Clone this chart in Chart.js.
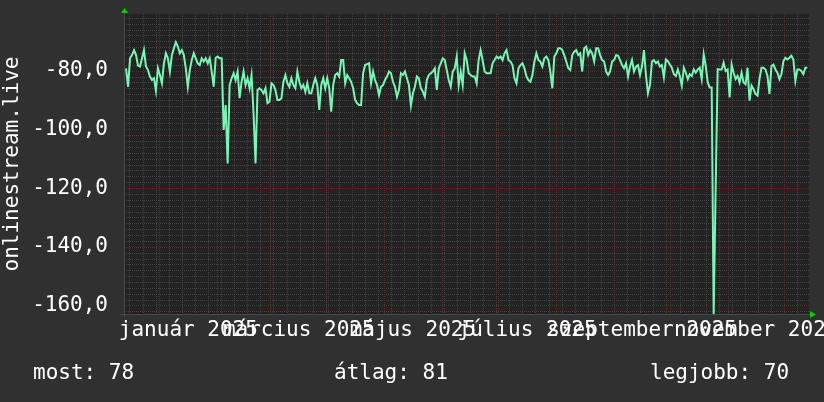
<!DOCTYPE html>
<html>
<head>
<meta charset="utf-8">
<script src="https://cdn.jsdelivr.net/npm/chart.js@4.4.0/dist/chart.umd.min.js"></script>
<style>
  html, body { margin: 0; padding: 0; background: #303030; }
  #wrap { width: 824px; height: 402px; }
</style>
</head>
<body>
<div id="wrap"><canvas id="chart" width="824" height="402"></canvas></div>
<script>
// values (one sample about every day)
const seg1 = [
  -79.2, -85.5, -75.8, -74.7, -73.0, -74.7, -78.3, -78.6, -75.8, -73.0,
  -78.6, -79.8, -82.0, -83.2, -82.6, -86.9, -79.2, -81.5, -84.3, -77.5,
  -74.1, -75.8, -80.3, -74.7, -72.4, -70.3, -71.8, -74.1, -73.0, -74.7,
  -79.2, -85.5, -79.8, -76.4, -74.1, -75.8, -77.5, -78.1, -75.8, -76.9,
  -75.8, -77.5, -75.8, -80.3, -85.5, -75.6, -75.2, -75.8, -75.8, -100.2,
  -91.7, -111.6, -84.9, -82.6, -80.9, -83.2, -80.3, -89.4, -83.8, -80.3,
  -84.9, -82.6, -86.0, -81.5, -94.5
];
const seg2 = [
  -111.6, -86.6, -86.0, -86.6, -87.7, -86.0, -91.1, -90.6, -84.3, -84.9,
  -86.6, -90.0, -90.0, -89.4, -83.8, -81.5, -84.3, -85.5, -82.6, -84.9,
  -86.0, -80.3, -83.8, -86.0, -84.9, -87.2, -84.3, -87.7, -87.7, -84.9,
  -82.6, -84.9, -93.4, -84.9, -82.6, -86.0, -82.6, -86.0, -94.0, -84.9,
  -81.5, -80.9, -82.0, -76.4, -76.4, -84.3, -81.5, -82.6, -83.8, -86.0,
  -90.0, -91.1, -91.7, -91.7, -80.9, -78.1, -77.8, -77.5, -84.3, -80.3,
  -83.2, -84.9, -88.3, -85.5, -84.9, -83.2, -82.0, -80.3
];
const seg3 = [
  -80.9, -83.8, -85.5, -88.9, -86.6, -80.9, -81.5, -80.3, -82.6, -84.9,
  -91.9, -87.7, -85.5, -82.0, -82.6, -86.0, -87.2, -88.9, -83.2, -81.5,
  -80.9, -80.3, -79.2, -86.6, -79.2, -77.5, -75.8, -76.4, -79.8, -83.2,
  -85.5, -80.3, -79.2, -75.2, -84.9, -80.3, -84.9, -74.1, -76.4, -80.9,
  -81.5, -82.0, -82.0, -84.3, -76.4, -73.0, -76.4, -80.3, -80.9, -80.9,
  -80.9, -77.5, -76.4, -75.2, -75.8, -75.2, -76.4, -74.1, -73.0, -76.4,
  -76.9, -78.1, -82.6, -84.3, -79.2, -78.1, -77.5
];
const seg4 = [
  -79.2, -82.0, -83.2, -83.8, -81.5, -76.9, -74.1, -76.4, -76.9, -78.6,
  -75.8, -75.2, -76.4, -80.3, -86.0, -75.2, -74.1, -72.4, -72.4, -73.0,
  -74.7, -76.9, -79.2, -79.8, -74.7, -73.5, -73.0, -74.7, -74.1, -80.3,
  -72.4, -71.8, -74.7, -73.0, -74.1, -76.9, -72.4, -72.4, -74.7, -76.4,
  -76.9, -80.3, -81.5, -80.3, -76.9, -76.4, -74.7, -74.9, -76.4, -78.1,
  -79.2, -77.5, -82.0, -78.6, -76.4, -80.3, -78.6, -78.1, -81.5, -78.6,
  -73.0, -81.5, -87.7, -84.9, -76.9, -76.4, -77.5, -76.9, -78.6, -78.1
];
const seg5 = [
  -82.3, -76.2, -76.8, -77.9, -79.0, -81.2, -81.8, -79.6, -81.8, -85.1,
  -79.0, -80.7, -82.9, -81.2, -81.8, -79.6, -80.7, -79.6, -79.0, -82.9,
  -74.5, -78.4, -84.0, -85.7, -85.7, -163.0, -120.0, -79.5, -79.6, -79.6,
  -77.3, -80.1, -79.6, -89.1, -77.9, -80.7, -82.9, -81.8, -84.0, -80.7,
  -84.0, -84.6, -79.0, -90.2, -85.1, -86.3, -87.9, -88.5, -82.9, -79.0,
  -79.0, -79.6, -81.8, -87.9, -78.4, -77.9, -79.6, -80.7, -82.9, -81.2,
  -76.8, -75.6, -76.2, -75.6, -74.9, -76.2, -83.5, -79.6, -79.6, -80.1,
  -81.2, -79.0, -79.0
];
const values = [...seg1, ...seg2, ...seg3, ...seg4, ...seg5];

// time axis: days counted from 1 Jan 2025
const dataStartDay = -17.8;
const dataStepDays = 1.0646;
const axisStartDay = -18.9;
const axisEndDay = 347.2;

const monthNames = ['január', 'február', 'március', 'április', 'május', 'június',
  'július', 'augusztus', 'szeptember', 'október', 'november', 'december'];
const labelMonths = [0, 2, 4, 6, 8, 10];
const yTicks = [-80, -100, -120, -140, -160];
const yMin = -162.9;
const yMax = -60.7;
const yTitle = 'onlinestream.live';
const legendItems = ['most: 78', 'átlag: 81', 'legjobb: 70'];

const FONT = '21px "DejaVu Sans Mono", monospace';
const DAY = 86400000;
const dayOf = (y, m, d) => (Date.UTC(y, m, d) - Date.UTC(2025, 0, 1)) / DAY;

const points = values.map((v, i) => ({ x: dataStartDay + i * dataStepDays, y: v }));

// month starts, weekly (monday) minor lines
const monthStarts = [];
for (let m = 0; m < 13; m++) monthStarts.push(dayOf(2025, m, 1));
const mondays = [];
for (let d = dayOf(2024, 11, 16); d <= axisEndDay; d += 7) mondays.push(d);

const rrdBackground = {
  id: 'rrdBackground',
  beforeDatasetsDraw(chart) {
    const { ctx, chartArea: a, scales: { x, y } } = chart;
    ctx.save();
    ctx.fillStyle = '#222222';
    ctx.fillRect(a.left, a.top, a.right - a.left, a.bottom - a.top);
    ctx.lineWidth = 1;
    ctx.setLineDash([1, 1]);

    // minor grid
    ctx.strokeStyle = '#434343';
    mondays.forEach(d => {
      const px = Math.round(x.getPixelForValue(d)) + 0.5;
      if (px < a.left || px > a.right) return;
      ctx.beginPath(); ctx.moveTo(px, a.top); ctx.lineTo(px, a.bottom); ctx.stroke();
    });
    for (let v = -162; v <= yMax; v += 2) {
      const py = Math.round(y.getPixelForValue(v)) + 0.5;
      ctx.beginPath(); ctx.moveTo(a.left, py); ctx.lineTo(a.right, py); ctx.stroke();
    }

    // major grid
    ctx.strokeStyle = '#5a2c2c';
    monthStarts.forEach(d => {
      const px = Math.round(x.getPixelForValue(d)) + 0.5;
      if (px < a.left || px > a.right) return;
      ctx.beginPath(); ctx.moveTo(px, a.top); ctx.lineTo(px, a.bottom); ctx.stroke();
    });
    yTicks.forEach(v => {
      const py = Math.round(y.getPixelForValue(v)) + 0.5;
      ctx.beginPath(); ctx.moveTo(a.left, py); ctx.lineTo(a.right, py); ctx.stroke();
    });
    ctx.restore();
  },
  afterDraw(chart) {
    const { ctx, chartArea: a, scales: { x, y } } = chart;
    ctx.save();
    // axes
    ctx.strokeStyle = '#4a4a4a';
    ctx.lineWidth = 1;
    ctx.beginPath();
    ctx.moveTo(a.left - 3, a.bottom + 0.5); ctx.lineTo(a.right + 2, a.bottom + 0.5);
    ctx.moveTo(a.left + 0.5, a.top - 2); ctx.lineTo(a.left + 0.5, a.bottom + 3);
    ctx.stroke();
    // arrows
    ctx.fillStyle = '#00d000';
    ctx.beginPath();
    ctx.moveTo(a.left - 3, a.top - 1); ctx.lineTo(a.left + 4, a.top - 1); ctx.lineTo(a.left + 0.5, a.top - 6);
    ctx.closePath(); ctx.fill();
    ctx.beginPath();
    ctx.moveTo(a.right + 1, a.bottom - 3); ctx.lineTo(a.right + 1, a.bottom + 4); ctx.lineTo(a.right + 7, a.bottom + 0.5);
    ctx.closePath(); ctx.fill();

    ctx.fillStyle = '#ffffff';
    ctx.font = FONT;
    // y tick labels
    ctx.textAlign = 'right';
    ctx.textBaseline = 'middle';
    yTicks.forEach(v => {
      ctx.fillText(v.toFixed(1).replace('.', ','), a.left - 16, y.getPixelForValue(v));
    });
    // x month labels, centred on mid-month
    ctx.textAlign = 'center';
    labelMonths.forEach(m => {
      const mid = (monthStarts[m] + monthStarts[m + 1]) / 2;
      ctx.fillText(monthNames[m] + ' 2025', x.getPixelForValue(mid), a.bottom + 17);
    });
    // y title
    ctx.save();
    ctx.translate(13, (a.top + a.bottom) / 2);
    ctx.rotate(-Math.PI / 2);
    ctx.textAlign = 'center';
    ctx.fillText(yTitle, 0, 0);
    ctx.restore();
    // bottom legend
    ctx.textAlign = 'left';
    ctx.fillText(legendItems[0], 33, 374);
    ctx.fillText(legendItems[1], 334, 374);
    ctx.fillText(legendItems[2], 650, 374);
    ctx.restore();
  }
};

new Chart(document.getElementById('chart'), {
  type: 'line',
  data: {
    datasets: [{
      data: points,
      borderColor: '#7af5b5',
      borderWidth: 2,
      pointRadius: 0,
      tension: 0,
      fill: false
    }]
  },
  options: {
    responsive: false,
    animation: false,
    layout: { padding: { left: 124, top: 14, right: 15, bottom: 88 } },
    plugins: { legend: { display: false }, tooltip: { enabled: false } },
    scales: {
      x: { type: 'linear', min: axisStartDay, max: axisEndDay, display: false },
      y: { min: yMin, max: yMax, display: false }
    }
  },
  plugins: [rrdBackground]
});
</script>
</body>
</html>
